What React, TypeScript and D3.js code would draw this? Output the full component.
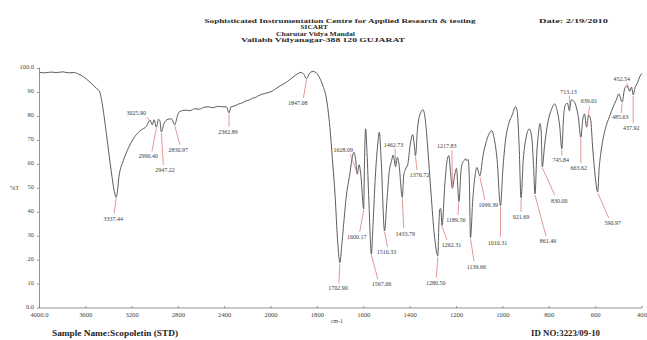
import React from "react";
import * as d3 from "d3";

// Report header
const headerLines = [
  "Sophisticated Instrumentation Centre for Applied  Research & testing",
  "SICART",
  "Charutar Vidya Mandal",
  "Vallabh Vidyanagar-388 120 GUJARAT",
];
const dateText = "Date: 2/19/2010";
const sampleText = "Sample Name:Scopoletin (STD)";
const idText = "ID NO:3223/09-10";

// Axis ticks
const xTickValues = [4000, 3600, 3200, 2800, 2400, 2000, 1800, 1600, 1400, 1200, 1000, 800, 600, 400];
const yTickValues = [0, 10, 20, 30, 40, 50, 60, 70, 80, 90, 100];

// Spectrum trace (wavenumber cm-1, %T) between the picked bands
const baseWavenumbers = [
  4000, 3950, 3900, 3850, 3800, 3750, 3700, 3660, 3620, 3564, 3510, 3478, 3463, 3420, 3380, 3355,
  3310, 3276, 3230, 3190, 3132, 3074, 3045, 3010, 2972, 2960, 2925, 2890, 2860, 2810, 2790, 2740,
  2700, 2660, 2620, 2580, 2540, 2500, 2460, 2420, 2385, 2345, 2310, 2280, 2250, 2220, 2190, 2160,
  2140, 2110, 2080, 2050, 2020, 2000, 1980, 1961, 1930, 1905, 1885, 1870, 1858, 1835, 1820, 1805,
  1790, 1775, 1762, 1746, 1735, 1724, 1712, 1695, 1688, 1674, 1660, 1652, 1642, 1635, 1620, 1612,
  1597, 1592, 1586, 1578, 1560, 1550, 1540, 1533, 1525, 1500, 1490, 1480, 1473, 1455, 1448, 1428,
  1420, 1410, 1400, 1389, 1382, 1368, 1355, 1345, 1335, 1325, 1310, 1295, 1276, 1272, 1268, 1250,
  1240, 1233, 1226, 1208, 1200, 1180, 1172, 1165, 1160, 1155, 1150, 1145, 1130, 1121, 1112, 1085,
  1070, 1055, 1048, 1038, 1025, 1000, 990, 975, 960, 945, 938, 930, 912, 900, 886, 875,
  868, 853, 848, 840, 835, 820, 805, 790, 777, 765, 755, 738, 730, 722, 705, 695,
  685, 675, 655, 648, 630, 622, 612, 602, 585, 578, 560, 540, 525, 510, 500, 475,
  465, 458, 445, 430, 420, 410, 400,
];
const baseTransmittance = [
  98.4, 98.2, 98.5, 98.3, 98.6, 98.2, 98.3, 97.6, 96.5, 94.3, 91.8, 90.0, 86.6, 72, 57, 49,
  56, 61.5, 67, 70.6, 74, 76, 78.5, 78.6, 78.8, 78.2, 77, 78.8, 79, 80, 82, 82.6,
  82.4, 83.2, 83, 83.8, 84, 83.6, 84.2, 84, 84, 84, 84.4, 85.2, 85.6, 86.4, 86.8, 87.6,
  87.8, 88.6, 89.2, 89.6, 90, 90.3, 91.5, 92.7, 94.5, 96.4, 97.8, 98.4, 97.5, 97.8, 98.8, 98.2,
  96, 92.5, 88, 75.4, 62, 47.6, 27, 26, 33.6, 47.6, 56, 61.5, 65, 62, 59.8, 55,
  60, 74.8, 65, 45, 35, 55, 68, 73.4, 62, 45, 57, 61.5, 63.9, 62.9, 60, 55,
  58, 60, 68, 72.4, 68, 75, 81.5, 82.8, 79, 68, 48, 30, 35, 41.3, 41.5, 52,
  62, 63.6, 57, 55.5, 58.3, 58, 61, 61.8, 62.3, 61.5, 62, 55, 45, 54.5, 58.7, 64,
  70, 73.5, 74.1, 71, 62, 58, 69, 76.9, 80.5, 84, 82, 68, 62, 71, 74.8, 71,
  60, 66, 71.5, 77, 74, 68, 78, 83, 85.2, 82, 76, 80, 85, 85.5, 86.9, 86.5,
  84.5, 80, 79, 81, 80.5, 79, 66, 55, 58, 64.3, 74.1, 80, 83.8, 87, 89.4, 91.5,
  92.8, 91.5, 92.2, 92, 94, 96.5, 98,
];

// Picked bands (minima) with their %T
const peakWavenumbers = [
  3337.44, 3025.9, 2990.4, 2947.22, 2830.97, 2362.89, 1847.08, 1702.9, 1628.09, 1600.17, 1567.06,
  1510.33, 1462.73, 1433.79, 1376.72, 1280.5, 1262.31, 1217.83, 1189.56, 1139.66, 1099.39, 1010.31,
  921.69, 861.46, 830.0, 745.84, 713.13, 663.62, 639.01, 590.97, 485.63, 452.54, 437.92,
];
const peakTransmittance = [
  46.2, 76.5, 75.5, 73.5, 76.5, 81.5, 95.7, 19, 55.9, 41.4, 22.5,
  32.2, 59, 46.2, 63.6, 21.8, 34.5, 50, 44.5, 29.4, 55.2, 42.7,
  46, 47.6, 59, 66.5, 82.4, 71.3, 75.5, 48.5, 86, 90.5, 89,
];

// Label placement per band: [text dx, text dy (baseline), leader end dx, leader end dy]
const peakLabelLayout: [number, number, number, number][] = [
  [-3, 24, -2, 16], [-16, -10, -6, -8], [-8, 31, -4.5, 24.5], [3.6, 40, 2, 33], [3.4, 27, 5, 20],
  [-1, 21, 0, 14], [-8.6, 26, -3, 19], [-2, 28, -1, 21], [-14, -22, -7, -20], [-7, 30, -4, 23],
  [10, 32, 6.5, 25], [2, 23.5, 3, 16], [-2, -20, -0.5, -18], [3, 38.5, 1.5, 31], [4, 21, 1.5, 14.5],
  [-2, 29, -1.5, 22], [9.5, 21.5, 5, 14.5], [-5.5, -40, -0.4, -38], [-3, 20.5, -1, 13.5], [6, 31, 3.5, 23.5],
  [8.5, 31, 5, 24], [-3, 39, 0, 31], [0, 21, 0, 14], [13, 49.5, 11, 42], [17, 36, 12.5, 28.5],
  [-1, 13.5, 0, 7], [-1, -17, 0, -15], [-2, 33, 0, 26], [2.5, -24, 3, -21], [15, 33, 11, 26],
  [-2, 16.5, -1, 11], [-8, -10, -3, -8], [-2, 35, 0, 28],
];

const W = 647;
const H = 340;
const serif = "'Liberation Serif', 'Times New Roman', serif";

const x = d3.scaleLinear().domain([4000, 2000, 400]).range([39.5, 271, 642]);
const y = d3.scaleLinear().domain([0, 100]).range([308, 68.5]);

const spectrum = baseWavenumbers
  .map((wn, i) => ({ wn, t: baseTransmittance[i] }))
  .concat(peakWavenumbers.map((wn, i) => ({ wn, t: peakTransmittance[i] })))
  .sort((a, b) => b.wn - a.wn);

const linePath = d3
  .line<{ wn: number; t: number }>()
  .x((d) => x(d.wn))
  .y((d) => y(d.t))
  .curve(d3.curveMonotoneX)(spectrum);

const fmtX = (v: number) => (v === 4000 ? "4000.0" : String(v));
const fmtY = (v: number) => (v === 0 || v === 100 ? v.toFixed(1) : String(v));

export default function App() {
  const x0 = x(4000);
  const x1 = x(400);
  const yBase = y(0);
  return (
    <svg
      width={W}
      height={H}
      viewBox={`0 0 ${W} ${H}`}
      style={{ position: "absolute", left: 0, top: 0, background: "#fff", display: "block" }}
      fontFamily={serif}
    >
      <rect x={0} y={0} width={W} height={H} fill="#fff" />

      {/* header */}
      <g fill="#2a2a2a" fontWeight="bold">
        <text x={204.5} y={22.6} fontSize={6.6} textLength={271} lengthAdjust="spacingAndGlyphs">{headerLines[0]}</text>
        <text x={300.5} y={29.2} fontSize={5.9} textLength={27.5} lengthAdjust="spacingAndGlyphs">{headerLines[1]}</text>
        <text x={276} y={35.8} fontSize={5.9} textLength={79} lengthAdjust="spacingAndGlyphs">{headerLines[2]}</text>
        <text x={241} y={42.3} fontSize={5.9} textLength={164} lengthAdjust="spacingAndGlyphs">{headerLines[3]}</text>
        <text x={539} y={22.6} fontSize={6.8} textLength={69} lengthAdjust="spacingAndGlyphs">{dateText}</text>
      </g>

      {/* axes */}
      <g stroke="#777" strokeWidth={0.8} fill="none">
        <line x1={x0} y1={y(100) - 1} x2={x0} y2={yBase} />
        <line x1={x0} y1={yBase} x2={x1} y2={yBase} />
        {yTickValues.map((v) => (
          <line key={`yt${v}`} x1={x0 - 2.5} x2={x0} y1={y(v)} y2={y(v)} />
        ))}
        {xTickValues.map((v) => (
          <line key={`xt${v}`} x1={x(v)} x2={x(v)} y1={yBase} y2={yBase - 2} />
        ))}
      </g>
      <g fill="#444" fontSize={6.4}>
        {yTickValues.map((v) => (
          <text key={`yl${v}`} x={34} y={y(v) + 0.5} textAnchor="end">{fmtY(v)}</text>
        ))}
        {xTickValues.map((v) => (
          <text key={`xl${v}`} x={x(v)} y={yBase + 8.5} textAnchor="middle" fontSize={6.6}>{fmtX(v)}</text>
        ))}
        <text x={337} y={yBase + 15} textAnchor="middle" fontSize={5.8}>cm-1</text>
        <text x={14.5} y={y(50) + 2} textAnchor="middle" fontSize={6.4}>%T</text>
      </g>

      {/* spectrum */}
      <path d={linePath ?? ""} fill="none" stroke="#4a4a4a" strokeWidth={0.9} strokeLinejoin="round" />

      {/* band labels */}
      <g>
        {peakWavenumbers.map((wn, i) => {
          const px = x(wn);
          const py = y(peakTransmittance[i]);
          const [tx, ty, ex, ey] = peakLabelLayout[i];
          const sy = ey > 0 ? 1 : -1;
          return (
            <g key={`pk${i}`}>
              <line x1={px} y1={py + sy} x2={px + ex} y2={py + ey} stroke="#e07c7c" strokeWidth={0.8} />
              <text x={px + tx} y={py + ty} textAnchor="middle" fontSize={6} fill="#3a3a3a">
                {wn.toFixed(2)}
              </text>
            </g>
          );
        })}
      </g>

      {/* footer */}
      <g fill="#222" fontWeight="bold" fontSize={7.8}>
        <text x={52} y={336} textLength={126} lengthAdjust="spacingAndGlyphs">{sampleText}</text>
        <text x={531} y={336} textLength={69} lengthAdjust="spacingAndGlyphs">{idText}</text>
      </g>
    </svg>
  );
}
